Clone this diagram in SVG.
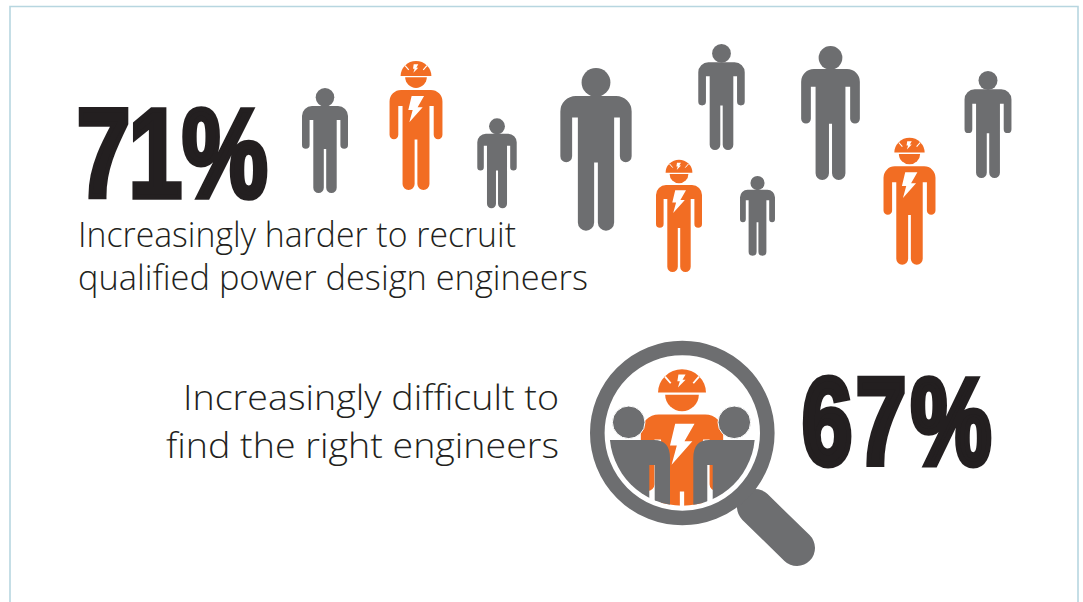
<svg xmlns="http://www.w3.org/2000/svg" width="1083" height="602" viewBox="0 0 1083 602">
<style>
.g{fill:#6d6e70}.o{fill:#f26d23}.w{fill:#fff}
.big{font-family:"Liberation Sans",Arial,sans-serif;font-weight:700;fill:#231f20;stroke:#231f20;stroke-linejoin:miter;vector-effect:non-scaling-stroke}
.t{font-family:"Open Sans","Noto Sans",sans-serif;font-weight:300;font-size:35px;fill:#231f20}
</style>
<defs>
<path id="body" d="M-13,18H13A10,10 0 0 1 23,28V57A3.8,3.8 0 0 1 15.4,57V32H11.7V99.75A5.25,5.25 0 0 1 1.2,99.75V61H-1.2V99.75A5.25,5.25 0 0 1 -11.7,99.75V32H-15.4V57A3.8,3.8 0 0 1 -23,57V28A10,10 0 0 1 -13,18Z"/>
<g id="grey" class="g"><circle cx="0" cy="9.3" r="9.3"/><use href="#body"/></g>
<g id="worker">
<use href="#body" class="o"/>
<path class="o" d="M-13.4,5.8A13.4,13 0 0 1 13.4,5.8Z"/>
<path class="o" d="M-9.4,7H9.4A9.4,9.2 0 0 1 -9.4,7Z"/>
<path class="w" d="M-3.8,23.2H7L1.4,33H5.8L-5.8,46.1L-2.9,35.4H-6.7Z"/>
<path class="w" d="M-2,-4.3H2L.3,-1.4H2L-2.3,3L-1.2,-.5H-2.6Z"/>
<path d="M-9.5,-3.1L-6.3,.6M9.5,-3.1L6.3,.6" stroke="#fff" stroke-width="1" fill="none"/>
</g>
<clipPath id="lens"><circle cx="682.3" cy="433" r="72.7"/></clipPath>
</defs>
<rect width="1083" height="602" fill="#fff"/>
<path d="M10,602V6.5H1078V602" fill="none" stroke="#b7d6e0" stroke-width="1.6"/>
<g id="stat-71"><text class="big" transform="translate(76.7,197) scale(.76,1)" x="0 68.2 138.6" y="0" font-size="127" stroke-width="5">71%</text></g>
<g id="label-71">
<text class="t" x="78" y="247" textLength="438" lengthAdjust="spacingAndGlyphs">Increasingly harder to recruit</text>
<text class="t" x="78" y="290" textLength="510" lengthAdjust="spacingAndGlyphs">qualified power design engineers</text>
</g>
<g id="person-1"><use href="#grey" transform="translate(325,88)"/></g>
<g id="worker-1"><use href="#worker" transform="translate(416,69.3) scale(1.15)"/></g>
<g id="person-2"><use href="#grey" transform="translate(497,118.3) scale(.857)"/></g>
<g id="person-3"><use href="#grey" transform="translate(596,68) scale(1.55)"/></g>
<g id="worker-2"><use href="#worker" transform="translate(679,167) scale(1)"/></g>
<g id="person-4"><use href="#grey" transform="translate(721.5,44) scale(1.01)"/></g>
<g id="person-5"><use href="#grey" transform="translate(757.5,176) scale(.76)"/></g>
<g id="person-6"><use href="#grey" transform="translate(830.5,46) scale(1.276)"/></g>
<g id="worker-3"><use href="#worker" transform="translate(909.5,146) scale(1.13)"/></g>
<g id="person-7"><use href="#grey" transform="translate(988,71) scale(1.02)"/></g>
<g id="label-67">
<text class="t" x="559" y="410" text-anchor="end" textLength="376" lengthAdjust="spacingAndGlyphs">Increasingly difficult to</text>
<text class="t" x="559" y="458" text-anchor="end" textLength="393" lengthAdjust="spacingAndGlyphs">find the right engineers</text>
</g>
<g id="magnifier">
<line x1="755" y1="507" x2="797" y2="548" stroke="#6d6e70" stroke-width="36" stroke-linecap="round"/>
<circle cx="682.3" cy="433" r="85" fill="#fff" stroke="#6d6e70" stroke-width="14.6"/>
<g clip-path="url(#lens)">
<use href="#worker" transform="translate(682,382.2) scale(1.79)"/>
<path class="g" d="M600,440H654Q670,440 670,458V520H654.7V465H649.3V520H600Z"/>
<path class="g" d="M764,440H709Q693.3,440 693.3,458V520H707.3V465H712.7V520H764Z"/>
</g>
<circle cx="628.7" cy="422.3" r="16.3" class="g" stroke="#fff" stroke-width="1"/>
<circle cx="734.3" cy="422.3" r="16.3" class="g" stroke="#fff" stroke-width="1"/>
</g>
<g id="stat-67"><text class="big" transform="translate(802,464) scale(.74,1)" x="0 73 147.3" y="0" font-size="122" stroke-width="6">67%</text></g>
</svg>
